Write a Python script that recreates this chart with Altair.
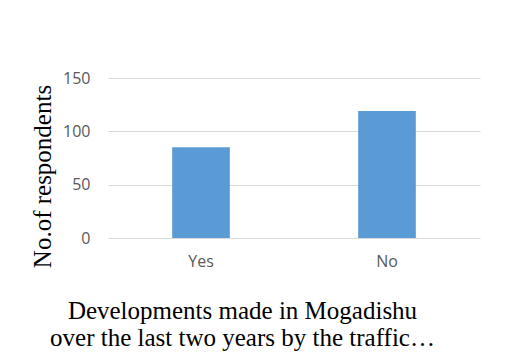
import altair as alt
import pandas as pd

categories = ["Yes", "No"]
values = [85, 119]
y_ticks = [0, 50, 100, 150]
x_title = ["Developments made in Mogadishu", "over the last two years by the traffic\u2026"]
y_title = "No.of respondents"

df = pd.DataFrame({"category": categories, "value": values})

chart = alt.Chart(df).mark_bar(color="#5B9BD5").encode(
    x=alt.X(
        "category:N",
        sort=categories,
        scale=alt.Scale(paddingInner=0.69, paddingOuter=0.345),
        axis=alt.Axis(
            title=x_title,
            titleFont="Liberation Serif",
            titleFontSize=25,
            titleFontWeight="normal",
            titleColor="#000000",
            titleX=134,
            titleY=80,
            titleAlign="center",
            titleBaseline="alphabetic",
            titleLineHeight=27,
            labelAngle=0,
            labelFont="Open Sans",
            labelFontSize=16,
            labelColor="#595959",
            labelPadding=15,
            ticks=False,
            domain=False,
        ),
    ),
    y=alt.Y(
        "value:Q",
        scale=alt.Scale(domain=[0, 150]),
        axis=alt.Axis(
            values=y_ticks,
            title=y_title,
            titleFont="Liberation Serif",
            titleFontSize=25,
            titleFontWeight="normal",
            titleColor="#000000",
            titleX=-58,
            titleY=98,
            titleAngle=270,
            titleAlign="center",
            titleBaseline="alphabetic",
            labelFont="Open Sans",
            labelFontSize=16,
            labelColor="#595959",
            labelPadding=18,
            ticks=False,
            domain=False,
            gridColor="#D9D9D9",
            gridWidth=1,
        ),
    ),
).properties(
    width=372,
    height=160,
    autosize=alt.AutoSizeParams(type="none"),
    padding={"left": 100, "top": 70, "right": 17, "bottom": 118},
    background="white",
).configure_view(stroke=None)

chart.save("out.html", embed_options={"renderer": "svg", "actions": False})
